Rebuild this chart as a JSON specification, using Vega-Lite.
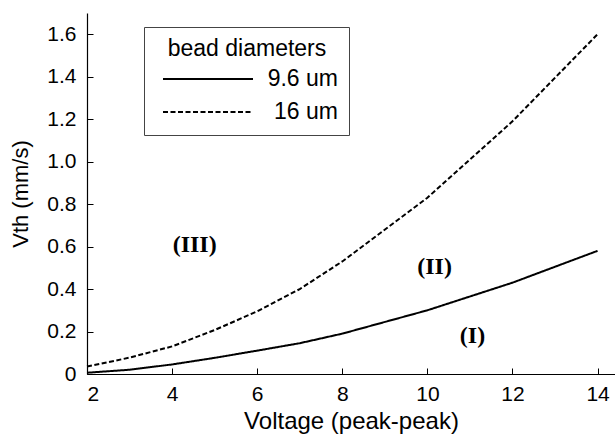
{
  "$schema": "https://vega.github.io/schema/vega-lite/v6.json",
  "autosize": {"type": "none"},
  "padding": {"left": 87, "top": 13, "right": 0, "bottom": 64},
  "width": 528,
  "height": 361,
  "background": "white",
  "config": {
    "view": {"stroke": null},
    "font": "Liberation Sans",
    "axis": {
      "domainColor": "black",
      "domainWidth": 1.2,
      "tickColor": "black",
      "tickWidth": 1,
      "tickSize": -6,
      "grid": false,
      "labelColor": "black",
      "titleColor": "black",
      "labelFont": "Liberation Sans",
      "titleFont": "Liberation Sans",
      "labelFontSize": 21,
      "titleFontWeight": "normal"
    }
  },
  "datasets": {
    "curves": [
      {"voltage": 2, "vth": 0.006, "bead": "9.6 um"},
      {"voltage": 3, "vth": 0.02, "bead": "9.6 um"},
      {"voltage": 4, "vth": 0.045, "bead": "9.6 um"},
      {"voltage": 5, "vth": 0.076, "bead": "9.6 um"},
      {"voltage": 6, "vth": 0.11, "bead": "9.6 um"},
      {"voltage": 7, "vth": 0.145, "bead": "9.6 um"},
      {"voltage": 8, "vth": 0.19, "bead": "9.6 um"},
      {"voltage": 10, "vth": 0.30, "bead": "9.6 um"},
      {"voltage": 12, "vth": 0.43, "bead": "9.6 um"},
      {"voltage": 14, "vth": 0.58, "bead": "9.6 um"},
      {"voltage": 2, "vth": 0.035, "bead": "16 um"},
      {"voltage": 3, "vth": 0.077, "bead": "16 um"},
      {"voltage": 4, "vth": 0.13, "bead": "16 um"},
      {"voltage": 5, "vth": 0.207, "bead": "16 um"},
      {"voltage": 6, "vth": 0.295, "bead": "16 um"},
      {"voltage": 7, "vth": 0.40, "bead": "16 um"},
      {"voltage": 8, "vth": 0.53, "bead": "16 um"},
      {"voltage": 10, "vth": 0.83, "bead": "16 um"},
      {"voltage": 12, "vth": 1.19, "bead": "16 um"},
      {"voltage": 14, "vth": 1.60, "bead": "16 um"}
    ],
    "regions": [
      {"voltage": 4.53, "vth": 0.607, "label": "(III)"},
      {"voltage": 10.17, "vth": 0.505, "label": "(II)"},
      {"voltage": 11.06, "vth": 0.179, "label": "(I)"}
    ]
  },
  "layer": [
    {
      "data": {"name": "curves"},
      "mark": {"type": "line", "strokeWidth": 2, "color": "black"},
      "encoding": {
        "x": {
          "field": "voltage", "type": "quantitative",
          "scale": {"domain": [2, 14.41], "nice": false, "zero": false},
          "axis": {"values": [2, 4, 6, 8, 10, 12, 14], "title": "Voltage (peak-peak)", "titleFontSize": 24, "labelPadding": 15, "titlePadding": 5}
        },
        "y": {
          "field": "vth", "type": "quantitative",
          "scale": {"domain": [0, 1.7], "nice": false},
          "axis": {"values": [0, 0.2, 0.4, 0.6, 0.8, 1.0, 1.2, 1.4, 1.6], "labelExpr": "datum.value == 0 ? '0' : format(datum.value, '.1f')", "title": "Vth (mm/s)", "titleFontSize": 22, "labelPadding": 17, "titlePadding": 14}
        },
        "strokeDash": {
          "field": "bead", "type": "nominal",
          "scale": {"domain": ["9.6 um", "16 um"], "range": [[1, 0], [5, 2.5]]},
          "legend": {
            "title": "bead diameters",
            "orient": "none",
            "legendX": 57,
            "legendY": 14,
            "strokeColor": "#444",
            "fillColor": "white",
            "padding": 11,
            "titleFontSize": 23,
            "titleFontWeight": "normal",
            "titleAnchor": "middle",
            "titleColor": "black",
            "titlePadding": 5,
            "labelFontSize": 23,
            "labelColor": "black",
            "labelAlign": "right",
            "labelOffset": 150,
            "symbolType": "M-1,0H6.5",
            "symbolSize": 576,
            "symbolStrokeWidth": 2,
            "symbolStrokeColor": "black",
            "symbolOffset": 7,
            "rowPadding": 8
          }
        }
      }
    },
    {
      "data": {"name": "regions"},
      "mark": {"type": "text", "font": "Liberation Serif", "fontWeight": "bold", "fontSize": 24, "color": "black"},
      "encoding": {
        "x": {"field": "voltage", "type": "quantitative"},
        "y": {"field": "vth", "type": "quantitative"},
        "text": {"field": "label"}
      }
    }
  ]
}
